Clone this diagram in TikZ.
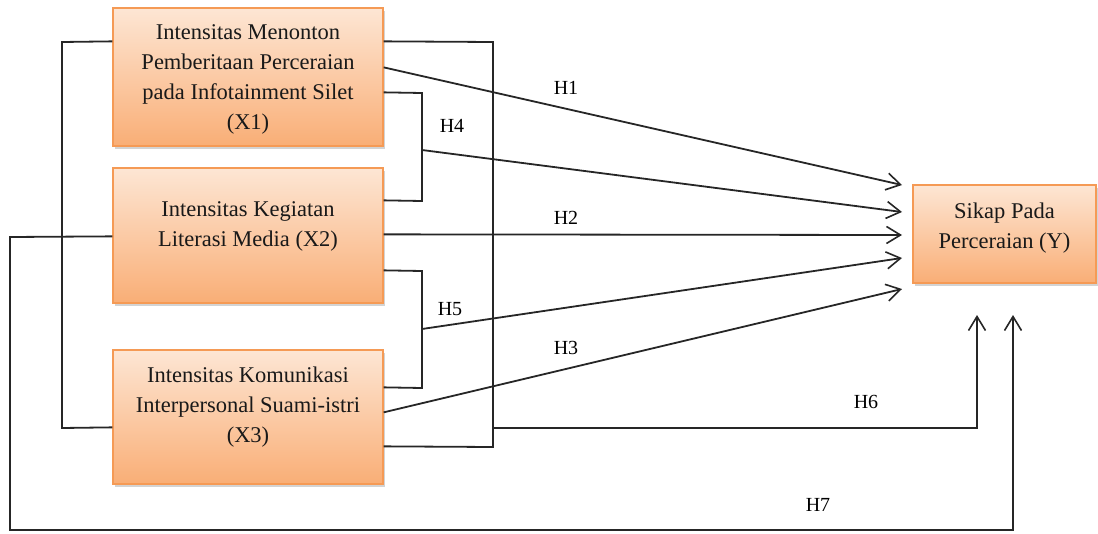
\documentclass[tikz,border=0pt]{standalone}
\usepackage{fontspec}
\setmainfont{Liberation Serif}
\usetikzlibrary{arrows.meta,shadows,calc}
\definecolor{boxtop}{HTML}{FDE6D4}
\definecolor{boxbot}{HTML}{F9AE76}
\definecolor{boxline}{HTML}{F59A55}
\tikzset{
  box/.style={draw=boxline, line width=1.3pt, top color=boxtop, bottom color=boxbot,
    drop shadow={opacity=0.35, shadow xshift=2pt, shadow yshift=-3pt}, inner sep=0pt},
  boxtext/.style={align=center, font=\fontsize{22.5}{30}\selectfont, inner sep=0pt, text=black!90},
  hlbl/.style={font=\fontsize{20}{22}\selectfont, inner sep=0pt},
  conn/.style={line width=1.8pt, draw=black!85},
  arr/.style={conn, -{Straight Barb[length=14pt,width=17pt,line width=1.6pt]}}
}
\begin{document}
\begin{tikzpicture}[x=1pt,y=-1pt]
\useasboundingbox (0,0) rectangle (1098,533);
% boxes
\node[box, minimum width=270pt, minimum height=138pt] (x1) at (248,77) {};
\node[box, minimum width=270pt, minimum height=135pt] (x2) at (248,235.5) {};
\node[box, minimum width=270pt, minimum height=134pt] (x3) at (248,417) {};
\node[box, minimum width=183pt, minimum height=98pt] (y) at (1004.5,234) {};
\node[boxtext] (x1t) at (248,79) {Intensitas Menonton\\Pemberitaan Perceraian\\pada Infotainment Silet\\(X1)};
\node[boxtext] (x2t) at (248,226) {Intensitas Kegiatan\\Literasi Media (X2)};
\node[boxtext] (x3t) at (248,407) {Intensitas Komunikasi\\Interpersonal Suami-istri\\(X3)};
\node[boxtext] (yt) at (1004.5,228) {Sikap Pada\\Perceraian (Y)};
% anchor coordinates
\coordinate (x1a) at ($(x1.north east)+(0,34)$);
\coordinate (x1b) at ($(x1.north east)+(0,60)$);
\coordinate (x1c) at ($(x1.north east)+(0,85)$);
\coordinate (x1l) at ($(x1.north west)+(0,34)$);
\coordinate (x2a) at ($(x2.north east)+(0,33)$);
\coordinate (x2b) at ($(x2.north east)+(0,67)$);
\coordinate (x2c) at ($(x2.north east)+(0,103)$);
\coordinate (x2l) at ($(x2.north west)+(0,69)$);
\coordinate (x3a) at ($(x3.north east)+(0,38)$);
\coordinate (x3b) at ($(x3.north east)+(0,63)$);
\coordinate (x3c) at ($(x3.north east)+(0,97)$);
\coordinate (x3l) at ($(x3.north west)+(0,78)$);
% brackets
\draw[conn] (x1l) -- (62,42) -- (62,428) -- (x3l);
\draw[conn] (x1a) -- (493,42) -- (493,447) -- (x3c);
\draw[conn] (x1c) -- (422,93) -- (422,201) -- (x2a);
\draw[conn] (x2c) -- (422,271) -- (422,388) -- (x3a);
% target points
\coordinate (t1) at (902,185);
\coordinate (t4) at (902,212);
\coordinate (t2) at (902,235);
\coordinate (t5) at (902,258);
\coordinate (t3) at (902,289);
\coordinate (h4s) at (422,150);
\coordinate (h5s) at (422,329);
\coordinate (h6s) at (493,428);
\coordinate (t6) at (977,315);
\coordinate (t7) at (1013,315);
% arrows
\draw[arr] (x1b) -- (t1);
\draw[arr] (h4s) -- (t4);
\draw[arr] (x2b) -- (t2);
\draw[arr] (h5s) -- (t5);
\draw[arr] (x3b) -- (t3);
\draw[arr] (h6s) -- (977,428) -- (t6);
\draw[arr] (x2l) -- (10,237) -- (10,530) -- (1013,530) -- (t7);
% labels
\node[hlbl] (lh1) at (566,88) {H1};
\node[hlbl] (lh4) at (452,126) {H4};
\node[hlbl] (lh2) at (566,218) {H2};
\node[hlbl] (lh5) at (450,309) {H5};
\node[hlbl] (lh3) at (566,348) {H3};
\node[hlbl] (lh6) at (866,402) {H6};
\node[hlbl] (lh7) at (818,505) {H7};
\end{tikzpicture}
\end{document}
